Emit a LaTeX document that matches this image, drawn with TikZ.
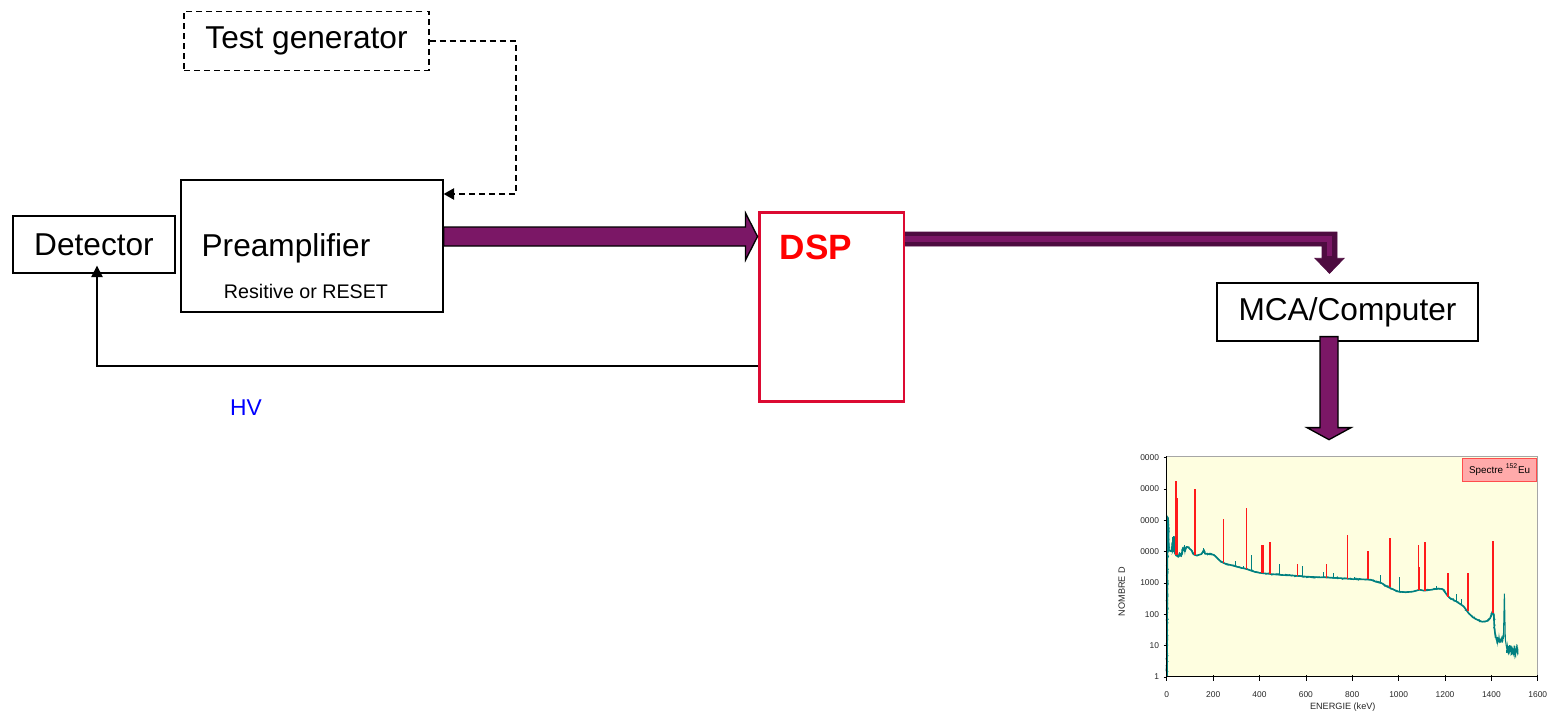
\documentclass[tikz,border=0pt]{standalone}
\usepackage{fontspec}
\setmainfont{Liberation Sans}
\usetikzlibrary{arrows.meta,calc,decorations.pathmorphing}

\definecolor{fatpurple}{HTML}{7B1766}
\definecolor{darkpurple}{HTML}{4E0C40}
\definecolor{dspred}{HTML}{DC0A32}
\definecolor{plotbg}{HTML}{FEFEE0}
\definecolor{specteal}{HTML}{008080}
\definecolor{peakred}{HTML}{FF1A1A}
\definecolor{legendfill}{HTML}{FFAAAA}

\tikzset{
  blockbox/.style={draw, line width=0.75pt, inner sep=0, font=\fontsize{18}{21}\selectfont},
  genbox/.style={blockbox, dash pattern=on 3.4pt off 2.3pt},
  dspbox/.style={draw=dspred, line width=1.7pt, inner sep=0},
  fat arrow/.style={fill=fatpurple, draw=black, line width=0.75pt, line join=miter},
  thin arrow/.style={-{Triangle[length=6.5pt, width=6.5pt]}, line width=0.75pt},
  tick lbl/.style={font=\fontsize{4.8}{5}\selectfont, text=black!85, inner sep=0.5pt},
  axis lbl/.style={font=\fontsize{5.2}{6}\selectfont, text=black!85, inner sep=0.5pt},
  noisy/.style={decorate, decoration={random steps, segment length=0.9pt, amplitude=0.6pt}},
}

\begin{document}
\begin{tikzpicture}[x=0.02cm, y=-0.02cm]
  \useasboundingbox (0,0) rectangle (1548,713);

  % Blocks
  \node[blockbox, minimum width=3.24cm, minimum height=1.14cm] (det) at (94,244.5) {Detector};
  \node[blockbox, minimum width=5.24cm, minimum height=2.64cm] (pre) at (312,246) {};
  \node[font=\fontsize{18}{21}\selectfont, inner sep=0] (prelbl) at (286,248) {Preamplifier};
  \node[font=\fontsize{11.2}{13}\selectfont, inner sep=0] (presub) at (306,291) {Resitive or RESET};
  \node[genbox, minimum width=4.9cm, minimum height=1.18cm] (gen) at (306.5,41) {Test generator};
  \node[dspbox, minimum width=2.9cm, minimum height=3.8cm] (dsp) at (831.5,307) {};
  \node[font=\fontsize{20}{24}\selectfont\bfseries, text=red, inner sep=0] (dsplbl) at (816,247) {DSP};
  \node[blockbox, minimum width=5.22cm, minimum height=1.16cm] (mca) at (1347.5,312) {MCA/Computer};
  \node[font=\fontsize{13}{15}\selectfont, text=blue, inner sep=0] (hv) at (246,408) {HV};

  % Test generator -> preamplifier
  \coordinate (gturn) at (516,194);
  \draw[dash pattern=on 3.4pt off 2.3pt, line width=0.8pt,
        -{Triangle[length=6pt, width=6.5pt]}] (gen.east) -| (gturn) -- (gturn -| pre.east);

  % HV supply -> detector
  \coordinate (hvturn) at (97,366);
  \draw[thin arrow] (dsp.west |- hvturn) -- (hvturn) -- ($(hvturn |- det.south)+(0,-8)$);

  % Preamplifier -> DSP
  \coordinate (f1y) at (0,236.5);
  \coordinate (f1s) at (pre.east |- f1y);
  \coordinate (f1e) at (dsp.west |- f1y);
  \filldraw[fat arrow] ($(f1s)+(0,-9.5)$) -- ($(f1e)+(-12,-9.5)$) -- ($(f1e)+(-12,-23.5)$)
    -- (f1e) -- ($(f1e)+(-12,23.5)$) -- ($(f1e)+(-12,9.5)$) -- ($(f1s)+(0,9.5)$) -- cycle;

  % DSP -> MCA (bent)
  \coordinate (f2y) at (0,239);
  \coordinate (f2s) at (dsp.east |- f2y);
  \coordinate (f2c) at (1329.5,239);
  \coordinate (f2e) at ($(f2c |- mca.north)+(0,-9)$);
  \filldraw[fill=darkpurple, draw=darkpurple, line width=0.4pt]
    ($(f2s)+(0,-7)$) -- ($(f2c)+(7.5,-7)$) -- ($(f2e)+(7.5,-15)$) -- ($(f2e)+(14.5,-15)$)
    -- (f2e) -- ($(f2e)+(-14.5,-15)$) -- ($(f2e)+(-7.5,-15)$) -- ($(f2c)+(-7.5,7)$)
    -- ($(f2s)+(0,7)$) -- cycle;
  \draw[fatpurple, line width=3.2pt] (f2s) -- (f2c) -- ($(f2e)+(0,-17)$);

  % MCA -> spectrum
  \coordinate (f3s) at ($(mca.south)+(-18.5,-5)$);
  \coordinate (f3e) at ($(f3s)+(0,103)$);
  \filldraw[fat arrow] ($(f3s)+(-9,0)$) -- ($(f3e)+(-9,-12)$) -- ($(f3e)+(-22,-12)$)
    -- (f3e) -- ($(f3e)+(22,-12)$) -- ($(f3e)+(9,-12)$) -- ($(f3s)+(9,0)$) -- cycle;

  % Spectrum (energy in keV, log10 of counts)
  \begin{scope}[shift={(23.34cm,-13.54cm)}, x=0.0046375cm, y=0.6268cm]
    \fill[plotbg] (0,0) rectangle (1600,7.04);
    \draw[gray!70, line width=0.4pt] (0,7.04) -- (1600,7.04) -- (1600,0);

    % continuum
    \pgfmathsetseed{42}
    \def\continuum{(1,0) (3,5.1) (6,5.05) (9,4.05) (20,4.0) (25,4.3) (27,4.0) (32,4.45) (35,3.95)
      (40,3.88) (50,3.83) (55,3.95) (62,3.85) (70,4.12) (78,4.0) (85,4.15) (95,4.12)
      (105,4.05) (118,3.9) (130,3.87) (150,3.92) (160,4.05) (165,3.93) (200,3.9)
      (210,3.85) (230,3.7) (250,3.62) (270,3.58) (300,3.52) (320,3.48) (340,3.45)
      (360,3.4) (380,3.35) (400,3.32) (450,3.28) (500,3.25) (550,3.23) (600,3.2)
      (650,3.18) (700,3.17) (750,3.15) (800,3.12) (850,3.11) (880,3.1) (900,3.04)
      (930,2.98) (950,2.88) (980,2.78) (1000,2.72) (1030,2.7) (1060,2.72) (1090,2.78)
      (1110,2.75) (1140,2.78) (1170,2.82) (1190,2.8) (1205,2.65) (1220,2.52) (1250,2.4)
      (1280,2.25) (1300,2.05) (1320,1.9) (1340,1.82) (1360,1.76) (1380,1.78)
      (1395,1.88) (1405,2.1) (1410,2.0) (1413,1.55) (1418,1.25)}
    \draw[specteal, line width=0.9pt, line join=round] plot coordinates \continuum;
    \draw[specteal, line width=0.5pt, noisy] plot coordinates \continuum;
    \draw[specteal, line width=0.6pt] plot[domain=1418:1452, samples=28] (\x,{1.2+0.1*rand});
    \draw[specteal, line width=0.6pt] plot[domain=1466:1515, samples=60] (\x,{0.85+0.17*rand});
    \draw[specteal, line width=0.6pt] (1452,1.25) -- (1456,2.66) -- (1460,1.2) -- (1466,0.9);

    % small peaks
    \foreach \e/\b/\t in {25/4.0/4.45, 30/4.0/4.5, 75/4.0/4.2, 160/3.95/4.1, 295/3.5/3.7,
        330/3.46/3.55, 367/3.38/3.9, 488/3.25/3.6, 586/3.2/3.55, 675/3.17/3.35,
        720/3.16/3.3, 810/3.12/3.2, 920/3.02/3.25, 1005/2.72/3.2, 1165/2.8/2.9,
        1250/2.4/2.65, 1270/2.3/2.5}
      \draw[specteal, line width=0.6pt] (\e,\b) -- (\e,\t);
    \foreach \e/\b/\t in {40/3.9/6.25, 43/3.9/5.7, 46/4.0/5.05, 122/3.9/5.98, 245/3.62/5.05,
        344/3.43/5.38, 411/3.31/4.2, 414/3.31/4.2, 444/3.28/4.31, 564/3.22/3.6,
        689/3.17/3.6, 779/3.13/4.52, 867/3.11/4.01, 964/2.86/4.43, 1086/2.78/4.2,
        1090/2.78/3.5, 1112/2.75/4.31, 1213/2.55/3.33, 1299/2.1/3.3, 1408/2.05/4.33}
      \draw[peakred, line width=1pt] (\e,\b) -- (\e,\t);

    % axes
    \draw[line width=0.6pt] (0,7.04) -- (0,0) -- (1600,0);
    \foreach \k/\lbl in {0/1, 1/10, 2/100, 3/1000, 4/0000, 5/0000, 6/0000, 7/0000} {
      \draw[line width=0.4pt] (-14,\k) -- (3,\k);
      \node[tick lbl, anchor=east] (yl\k) at (-28,\k) {\lbl};
    }
    \foreach \e in {0,200,...,1600} {
      \draw[line width=0.4pt] (\e,-0.12) -- (\e,0.05);
      \node[tick lbl] (xl\e) at (\e,-0.58) {\e};
    }
    \node[axis lbl] (xtitle) at (759,-0.95) {ENERGIE (keV)};
    \node[axis lbl, rotate=90] (ytitle) at (-194,2.72) {NOMBRE D};
    \node[draw=red!70, fill=legendfill, line width=0.4pt, minimum width=1.48cm,
          minimum height=0.46cm, inner sep=0, font=\fontsize{5.6}{6}\selectfont]
          (legend) at (1435.5,6.62) {Spectre \textsuperscript{152}Eu};
  \end{scope}
\end{tikzpicture}
\end{document}
